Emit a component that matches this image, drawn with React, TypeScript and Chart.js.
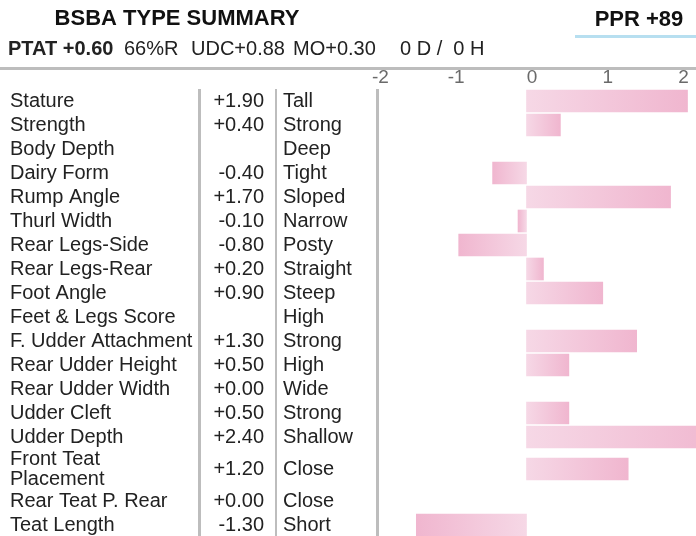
import React, { useEffect, useRef } from "react";
import { Chart, registerables } from "chart.js";

Chart.register(...registerables);

const traits: string[] = [
  "Stature", "Strength", "Body Depth", "Dairy Form", "Rump Angle", "Thurl Width",
  "Rear Legs-Side", "Rear Legs-Rear", "Foot Angle", "Feet & Legs Score",
  "F. Udder Attachment", "Rear Udder Height", "Rear Udder Width", "Udder Cleft",
  "Udder Depth", "Front Teat\nPlacement", "Rear Teat P. Rear", "Teat Length",
];
const values: (number | null)[] = [
  1.9, 0.4, null, -0.4, 1.7, -0.1, -0.8, 0.2, 0.9, null, 1.3, 0.5, 0.0, 0.5, 2.4, 1.2, 0.0, -1.3,
];
const descriptors: string[] = [
  "Tall", "Strong", "Deep", "Tight", "Sloped", "Narrow", "Posty", "Straight", "Steep",
  "High", "Strong", "High", "Wide", "Strong", "Shallow", "Close", "Close", "Short",
];
const axisTicks: number[] = [-2, -1, 0, 1, 2];
const titleText = "BSBA TYPE SUMMARY";
const pprText = "PPR +89";
const ptatText = "PTAT +0.60";
const summaryItems: string[] = ["66%R", "UDC+0.88", "MO+0.30", "0 D /  0 H"];

const FONT = '"Liberation Sans", Arial, Helvetica, sans-serif';
const LIGHT = "#f6d8e6";
const DARK = "#f0b6cf";
const RULE = "#bdbdbd";

// row centres (in row units) derived from label line counts
const rowCenters: number[] = (() => {
  const out: number[] = [];
  let acc = 0;
  traits.forEach((t) => {
    const lines = t.split("\n").length;
    const h = 1 + (lines - 1) * (16 / 24);
    out.push(acc + h / 2);
    acc += h;
  });
  return out;
})();

const fmt = (v: number | null) => (v === null ? "" : (v >= 0 ? "+" : "") + v.toFixed(2));

const tablePlugin = {
  id: "typeSummaryTable",
  afterDraw(chart: any) {
    const ctx = chart.ctx as CanvasRenderingContext2D;
    const ys = chart.scales.y;
    const W = chart.width;
    const H = chart.height;
    ctx.save();
    // header
    ctx.fillStyle = "#111";
    ctx.textBaseline = "middle";
    ctx.textAlign = "center";
    ctx.font = `bold 22px ${FONT}`;
    ctx.fillText(titleText, 177, 19);
    ctx.fillText(pprText, 639, 20);
    ctx.fillStyle = "#b7dff0";
    ctx.fillRect(575, 35, W - 575, 3);
    // summary line
    ctx.textAlign = "left";
    ctx.fillStyle = "#222";
    ctx.font = `bold 20px ${FONT}`;
    ctx.fillText(ptatText, 8, 49);
    ctx.font = `20px ${FONT}`;
    const sx = [124, 191, 293, 400];
    summaryItems.forEach((s, i) => ctx.fillText(s, sx[i], 49));
    // rules
    ctx.fillStyle = RULE;
    ctx.fillRect(0, 67, W, 3);
    const top = chart.chartArea.top;
    ctx.fillRect(198, top, 3, H - top);
    ctx.fillRect(275, top, 2, H - top);
    ctx.fillRect(376, top, 3, H - top);
    // value & descriptor columns
    ctx.fillStyle = "#222";
    ctx.font = `20px ${FONT}`;
    traits.forEach((_, i) => {
      const y = ys.getPixelForValue(rowCenters[i]);
      ctx.textAlign = "right";
      ctx.fillText(fmt(values[i]), 264, y);
      ctx.textAlign = "left";
      ctx.fillText(descriptors[i], 283, y);
    });
    ctx.restore();
  },
};

export default function App() {
  const ref = useRef<HTMLCanvasElement | null>(null);
  useEffect(() => {
    if (!ref.current) return;
    const barData = traits
      .map((_, i) => ({ x: values[i], y: rowCenters[i] }))
      .filter((d) => d.x !== null);
    const chart = new Chart(ref.current, {
      type: "bar",
      data: {
        datasets: [
          {
            data: barData as any,
            xAxisID: "x",
            yAxisID: "y",
            barThickness: 22,
            borderWidth: 0,
            backgroundColor: (c: any) => {
              const ch = c.chart;
              if (!ch.chartArea || !c.raw) return LIGHT;
              const xs = ch.scales.x;
              const x0 = xs.getPixelForValue(0);
              const x1 = xs.getPixelForValue(c.raw.x);
              if (Math.abs(x1 - x0) < 1) return "rgba(0,0,0,0)";
              const g = ch.ctx.createLinearGradient(x0, 0, x1, 0);
              g.addColorStop(0, LIGHT);
              g.addColorStop(1, DARK);
              return g;
            },
          },
        ],
      },
      options: {
        indexAxis: "y",
        responsive: false,
        devicePixelRatio: 1,
        animation: false,
        layout: { padding: { left: 10, top: 0, right: 0, bottom: 0 } },
        plugins: { legend: { display: false }, tooltip: { enabled: false }, title: { display: false } },
        scales: {
          x: { type: "linear", display: false, min: -2, max: 2 },
          x2: {
            type: "linear",
            position: "top",
            min: -2.31,
            max: 2.165,
            offset: false,
            grid: { display: false, drawTicks: false },
            border: { display: false },
            afterBuildTicks: (s: any) => {
              s.ticks = axisTicks.map((v) => ({ value: v }));
            },
            afterFit: (s: any) => {
              s.height = 89;
              s.paddingLeft = 0;
              s.paddingRight = 0;
            },
            ticks: {
              autoSkip: false,
              maxRotation: 0,
              padding: 0,
              color: "#6a6a6a",
              font: { size: 19, family: FONT },
              callback: (_v: any, i: number) => String(axisTicks[i]),
            },
          },
          y: {
            type: "linear",
            position: "left",
            reverse: true,
            offset: false,
            min: 0,
            max: 18.625,
            grid: { display: false, drawTicks: false, offset: false },
            border: { display: false },
            afterBuildTicks: (s: any) => {
              s.ticks = rowCenters.map((v) => ({ value: v }));
            },
            afterFit: (s: any) => {
              s.width = 347;
              s.paddingTop = 0;
              s.paddingBottom = 0;
            },
            ticks: {
              autoSkip: false,
              crossAlign: "far",
              padding: 0,
              color: "#222",
              font: { size: 20, family: FONT, lineHeight: 1 },
              callback: (_v: any, i: number) => traits[i].split("\n"),
            },
          },
        },
      },
      plugins: [tablePlugin],
    } as any);
    return () => chart.destroy();
  }, []);
  return (
    <div style={{ position: "absolute", left: 0, top: 0, width: 696, height: 536, background: "#fff" }}>
      <canvas ref={ref} width={696} height={536} style={{ display: "block" }} />
    </div>
  );
}
